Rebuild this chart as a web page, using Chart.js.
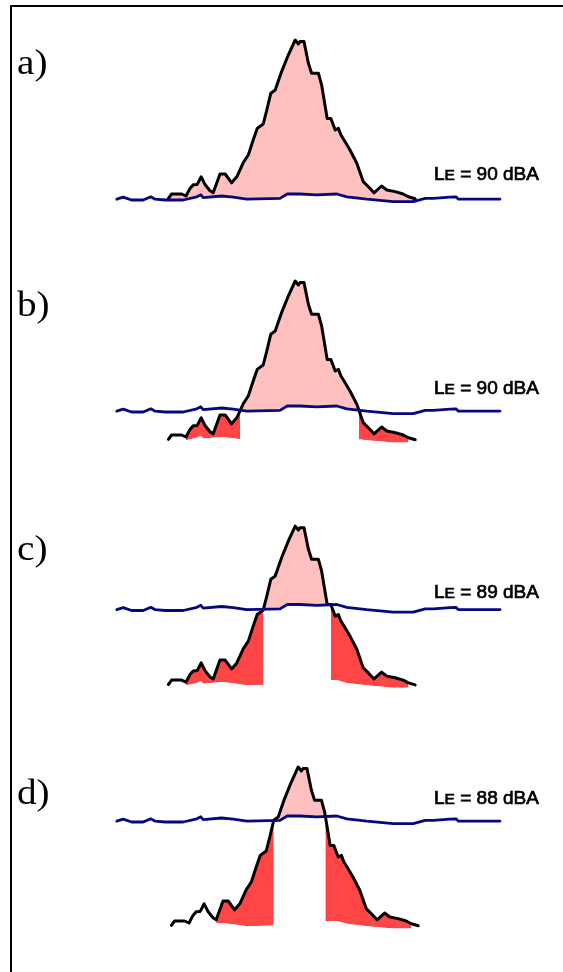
<!DOCTYPE html>
<html><head><meta charset="utf-8">
<script src="https://cdn.jsdelivr.net/npm/chart.js@4"></script>
<style>
html,body{margin:0;padding:0;background:#fff;overflow:hidden;}
body{width:563px;height:972px;position:relative;}
#ftop{position:absolute;left:10px;top:5px;width:553px;height:2px;background:#000;}
#fleft{position:absolute;left:10px;top:5px;width:2px;height:967px;background:#000;}
canvas{position:absolute;left:0;}
.pl{position:absolute;left:17px;font-family:"Liberation Serif","Times New Roman",serif;font-size:35px;line-height:34px;color:#000;white-space:nowrap;transform:scaleX(1.12);transform-origin:0 0;}
.le{position:absolute;left:434px;font-family:"Liberation Sans",Arial,sans-serif;font-weight:normal;font-size:19px;line-height:20px;color:#000;white-space:nowrap;-webkit-text-stroke:0.7px #000;}
.le .sub{font-size:15.5px;}
</style></head>
<body>
<div id="ftop"></div><div id="fleft"></div>
<script>
// ---- data (time in s, level in dB) ----
const eventTime = [13.1,13.9,16.4,17.5,18.5,19.3,20.3,21.3,22.3,23.5,24.3,26.0,27.3,28.9,30.2,31.8,33.1,34.3,35.3,36.8,37.7,38.7,39.8,41.4,43.1,44.8,45.6,46.0,47.0,48.1,48.9,50.6,51.4,52.8,53.7,54.8,55.6,56.2,57.5,58.5,60.2,61.8,63.1,64.5,66.4,67.7,69.8,71.8,73.1,74.8];
const eventLevel = [50.0,51.1,51.1,50.6,52.5,53.4,53.5,55.4,53.4,51.9,51.4,56.1,56.1,53.9,55.4,58.9,60.9,64.6,67.5,68.6,72.1,76.3,77.1,81.7,85.9,89.6,88.6,89.2,89.2,83.8,81.3,81.3,78.4,70.0,70.0,67.1,67.5,65.9,63.8,62.1,58.8,54.2,52.9,51.4,53.1,52.1,51.7,51.1,50.4,49.9];
const bgTime = [0.2,1.8,3.9,6.8,8.7,9.8,12.3,16.8,20.2,21.2,21.8,26.4,29.3,32.7,41.0,42.8,46.0,50.2,55.2,57.7,62.7,69.3,74.3,77.3,79.3,83.5,85.0,85.6,96.0];
const bgLevel = [49.8,50.3,49.6,49.6,50.4,49.8,49.6,49.6,50.4,50.9,50.2,50.6,50.3,49.8,50.0,51.1,51.1,50.9,51.1,50.4,49.8,49.2,49.2,50.0,50.0,50.3,50.4,49.8,49.8];
const panelLabels = ['a)','b)','c)','d)'];
const leValues = [90, 90, 89, 88];
const eventShift = [0, 7.25, 18.9, 26.25];   // dB the event sits lower relative to background
const eventDelay = [0, 0, 0, 0.75];          // s
const redStart = [null, 17.5, 17.5, 24.3];   // s, start of discarded part
const redEnd = [null, 73.1, 73.1, 73.1];

// ---- layout / style ----
const W = 563, H = 200;
const canvasTop = [20, 262, 505, 748];
const bgOffsetPx = [0, 212, 410.5, 622];
const labelBaseline = [74.5, 317, 561, 804.5];
const leBaseline = [181, 395, 598.3, 805];
const pxPerSec = 4, pxPerDb = 4, x0 = 116, y0 = 398.4;
const NAVY = '#06067f', PINK = '#FFC0C0', RED = '#FF4545', CLEAR = 'rgba(0,0,0,0)';

function interp(xs, ys, x) {
  if (x <= xs[0]) return ys[0];
  for (let i = 1; i < xs.length; i++) {
    if (x <= xs[i]) { const f = (x - xs[i-1]) / (xs[i] - xs[i-1]); return ys[i-1] + f * (ys[i] - ys[i-1]); }
  }
  return ys[ys.length - 1];
}

function redPoints(k) {
  const out = [];
  if (redStart[k] === null) return out;
  const bg = t => interp(bgTime, bgLevel, t);
  let prev = null;
  for (let i = 0; i < eventTime.length; i++) {
    const t = eventTime[i] + eventDelay[k];
    const inRange = eventTime[i] >= redStart[k] && eventTime[i] <= redEnd[k];
    if (!inRange) { if (prev && prev.below) out.push({x: t, y: null}); prev = null; continue; }
    const y = eventLevel[i] - eventShift[k];
    const below = y <= bg(t);
    if (prev && prev.below !== below) {
      const p = prev;
      const diff = s => (p.y + (y - p.y) * (s - p.t) / (t - p.t)) - bg(s);
      let a = p.t, b = t;
      for (let n = 0; n < 40; n++) { const m = (a + b) / 2; if ((diff(m) <= 0) === p.below) a = m; else b = m; }
      const tc = (a + b) / 2;
      out.push({x: tc, y: bg(tc)});
      if (p.below) out.push({x: tc, y: null});
    }
    if (below) out.push({x: t, y});
    prev = {t, y, below};
  }
  return out;
}

for (let k = 0; k < 4; k++) {
  const c = document.createElement('canvas');
  c.width = W; c.height = H;
  c.style.top = canvasTop[k] + 'px';
  document.body.appendChild(c);

  const yMax = (y0 + bgOffsetPx[k] - canvasTop[k]) / pxPerDb;
  const yMin = yMax - H / pxPerDb;
  const xMin = -x0 / pxPerSec, xMax = (W - x0) / pxPerSec;

  const bgPts = bgTime.map((t, i) => ({x: t, y: bgLevel[i]}));
  const evPts = eventTime.map((t, i) => ({x: t + eventDelay[k], y: eventLevel[i] - eventShift[k]}));
  const datasets = [
    {label: 'Background', data: bgPts, borderColor: NAVY, borderWidth: 2.8, fill: false, order: 0},
    {label: 'Event', data: evPts, borderColor: '#000', borderWidth: 3, fill: {target: 0, above: PINK, below: CLEAR}, order: 1}
  ];
  if (redStart[k] !== null) {
    datasets.push({label: 'Discarded', data: redPoints(k), borderWidth: 0, borderColor: CLEAR, fill: {target: 3, above: RED, below: CLEAR}, order: 2});
    datasets.push({label: 'Background under event', data: bgTime.map((t, i) => ({x: t, y: bgLevel[i] - eventShift[k]})), borderWidth: 0, borderColor: CLEAR, fill: false, order: 3});
  }
  new Chart(c, {
    type: 'line',
    data: {datasets},
    options: {
      responsive: false, animation: false, devicePixelRatio: 1, events: [],
      layout: {padding: 0},
      plugins: {legend: {display: false}, tooltip: {enabled: false}, title: {display: false}},
      elements: {point: {radius: 0}, line: {tension: 0, borderJoinStyle: 'round', borderCapStyle: 'round'}},
      scales: {
        x: {type: 'linear', display: false, min: xMin, max: xMax},
        y: {type: 'linear', display: false, min: yMin, max: yMax}
      }
    }
  });

  const pl = document.createElement('div');
  pl.className = 'pl';
  pl.textContent = panelLabels[k];
  pl.style.top = (labelBaseline[k] - 29) + 'px';
  document.body.appendChild(pl);

  const le = document.createElement('div');
  le.className = 'le';
  le.innerHTML = 'L<span class="sub">E</span> = ' + leValues[k] + ' dBA';
  le.style.top = (leBaseline[k] - 16.6) + 'px';
  document.body.appendChild(le);
}
</script>
</body></html>
